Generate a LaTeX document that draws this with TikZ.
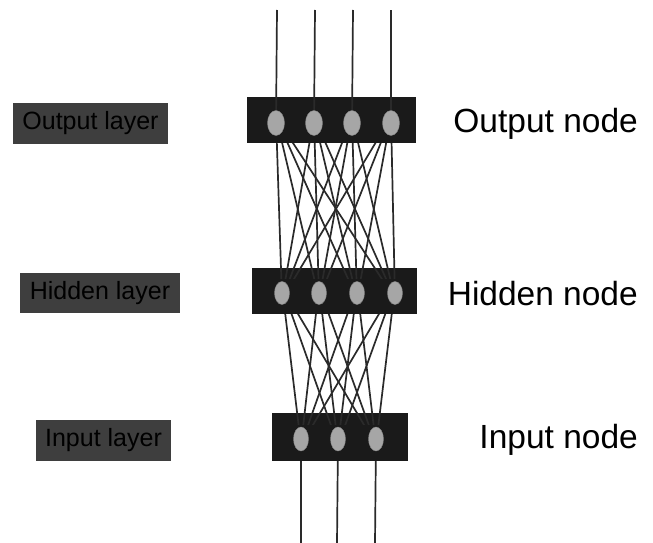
\documentclass[tikz,border=0pt]{standalone}
\usepackage{fontspec}
\setmainfont{Liberation Sans}
\usetikzlibrary{shapes.geometric}
\definecolor{boxdark}{HTML}{1A1A1A}
\definecolor{labeldark}{HTML}{3E3E3E}
\definecolor{nodegray}{HTML}{A6A6A6}
\definecolor{wire}{HTML}{2A2A2A}
\tikzset{
  layerbox/.style={fill=boxdark, draw=none},
  labelbox/.style={fill=labeldark, draw=none, text=black, font=\fontsize{25}{27}\selectfont, inner sep=0pt, anchor=center},
  neuron/.style={ellipse, fill=nodegray, draw=nodegray!80!black, line width=0.4pt, minimum width=16pt, minimum height=24pt, inner sep=0pt},
  wireline/.style={draw=wire, line width=1.7pt},
  biglabel/.style={font=\fontsize{33.5}{36}\selectfont, anchor=east, inner sep=0pt}
}
\begin{document}
\begin{tikzpicture}[x=1pt,y=-1pt]
\useasboundingbox (0,0) rectangle (653,543);
% layer boxes
\node[layerbox, minimum width=169pt, minimum height=46pt, inner sep=0pt] (obox) at (331.5,120) {};
\node[layerbox, minimum width=165pt, minimum height=46pt, inner sep=0pt] (hbox) at (334.5,291) {};
\node[layerbox, minimum width=136pt, minimum height=48pt, inner sep=0pt] (ibox) at (340,437) {};
% neuron positions
\coordinate (o1) at (276,123); \coordinate (o2) at (314,123); \coordinate (o3) at (352,123); \coordinate (o4) at (391,123);
\coordinate (h1) at (282,293); \coordinate (h2) at (319,293); \coordinate (h3) at (357,293); \coordinate (h4) at (395,293);
\coordinate (i1) at (301,439); \coordinate (i2) at (338,439); \coordinate (i3) at (376,439);
% top and bottom free ends
\coordinate (t1) at (277,10); \coordinate (t2) at (315,10); \coordinate (t3) at (353,10); \coordinate (t4) at (391,10);
\coordinate (b1) at (301,543); \coordinate (b2) at (337,543); \coordinate (b3) at (375,543);
% wires
\foreach \k in {1,2,3,4} { \draw[wireline] (o\k) -- (t\k); }
\foreach \k in {1,2,3} { \draw[wireline] (i\k) -- (b\k); }
\foreach \a in {1,2,3,4} { \foreach \b in {1,2,3,4} { \draw[wireline] ([yshift=6pt]o\a) -- ([yshift=-6pt]h\b); } }
\foreach \a in {1,2,3} { \foreach \b in {1,2,3,4} { \draw[wireline] ([yshift=-6pt]i\a) -- ([yshift=6pt]h\b); } }
% re-cover wires with box interiors around the neurons
\fill[boxdark] (248,110) rectangle (415,143);
\fill[boxdark] (253,279) rectangle (416,314);
\fill[boxdark] (273,425) rectangle (407,461);
% neurons
\foreach \k in {1,2,3,4} { \node[neuron, minimum width=17pt, minimum height=25pt] (no\k) at (o\k) {}; }
\foreach \k in {1,2,3,4} { \node[neuron, minimum width=15pt, minimum height=23pt] (nh\k) at (h\k) {}; }
\foreach \k in {1,2,3} { \node[neuron, minimum width=15pt, minimum height=24pt] (ni\k) at (i\k) {}; }
% left labels
\node[labelbox, minimum width=155pt, minimum height=41pt] (lo) at (90.5,123.5) {Output layer};
\node[labelbox, minimum width=160pt, minimum height=40pt] (lh) at (100,293) {Hidden layer};
\node[labelbox, minimum width=135pt, minimum height=41pt] (li) at (103.5,440.5) {Input layer};
% right labels
\node[biglabel] (ro) at (638,124) {Output node};
\node[biglabel] (rh) at (638,294) {Hidden node};
\node[biglabel] (ri) at (638,440) {Input node};
\end{tikzpicture}
\end{document}
